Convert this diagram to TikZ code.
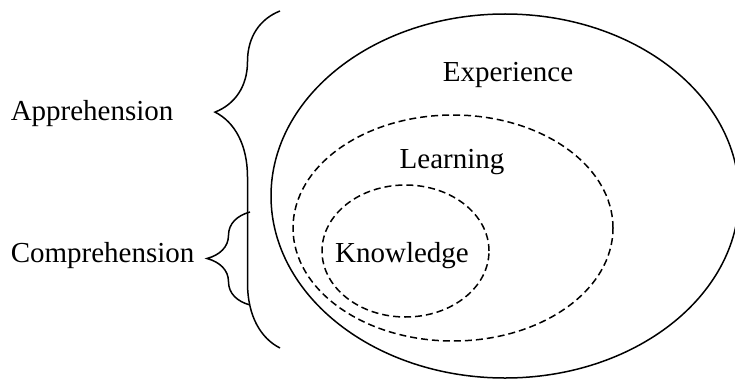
\documentclass[tikz,border=0pt]{standalone}
\usepackage{fontspec}
\setmainfont{Liberation Serif}
\usetikzlibrary{shapes.geometric,decorations.pathreplacing}

\begin{document}
\begin{tikzpicture}
  [x=1pt,y=1pt,line width=1.5pt,
   every node/.style={inner sep=0pt,font=\fontsize{29}{34}\selectfont},
   ring/.style={ellipse,draw,line width=1.5pt},
   dashring/.style={ring,dash pattern=on 7pt off 4pt},
   curly/.style={decorate,decoration={brace,amplitude=#1}}]
  \useasboundingbox (0,0) rectangle (735,381);

  \node[ring,minimum width=468,minimum height=364] (exp) at (505,185) {};
  \node[dashring,minimum width=320,minimum height=226] (learn) at (453,153) {};
  \node[dashring,minimum width=167,minimum height=132] (know) at (405.5,130) {};

  \node[anchor=base] (texp) at (508,299) {Experience};
  \node[anchor=base] (tlearn) at (452,213) {Learning};
  \node[anchor=base] (tknow) at (402,119) {Knowledge};

  \node[anchor=base west] (appr) at (10,261) {Apprehension};
  \node[anchor=base west] (comp) at (10,119) {Comprehension};

  \coordinate (a1) at (280,33);
  \coordinate (a2) at (280,370);
  \coordinate (c1) at (250,76);
  \coordinate (c2) at (250,169);

  \draw[curly=65pt,decoration={aspect=0.7}] (a1) -- (a2);
  \draw[curly=43pt] (c1) -- (c2);
\end{tikzpicture}
\end{document}
